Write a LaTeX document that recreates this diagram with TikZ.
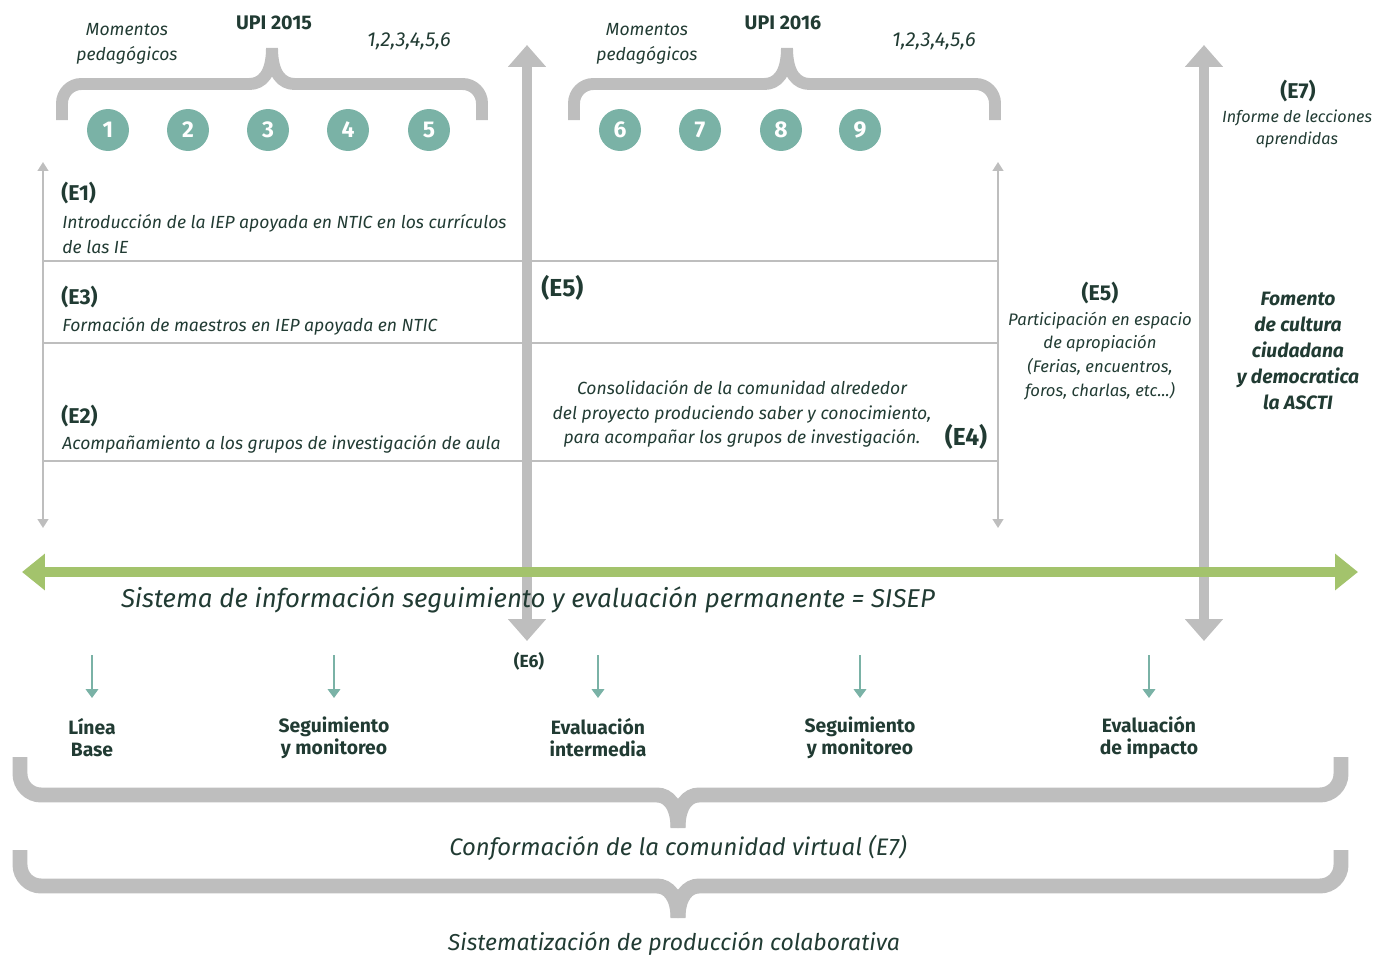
\documentclass[tikz,border=0pt]{standalone}
\usepackage{fontspec}
\setmainfont{Fira Sans}
\usetikzlibrary{arrows.meta}
\definecolor{bargray}{HTML}{BEBEBE}
\definecolor{leafgreen}{HTML}{A3C36C}
\definecolor{dotteal}{HTML}{7AB2A6}
\definecolor{inkgreen}{HTML}{213B33}
\newcommand{\bodyfont}{\fontsize{10}{14}\selectfont}
\newcommand{\tagfont}{\fontsize{12.2}{14}\selectfont}
\begin{document}
\begin{tikzpicture}[x=0.02cm,y=-0.02cm,
  every node/.style={text=inkgreen,inner sep=0pt},
  gbrace/.style={draw=bargray,line width=6.8pt,rounded corners=11pt},
  lowbrace/.style={draw=bargray,line width=8.5pt,rounded corners=12pt},
  bigarrow/.style={draw=bargray,line width=5.7pt,
    {Triangle[length=12.5pt,width=21pt]}-{Triangle[length=12.5pt,width=21pt]}},
  greenarrow/.style={draw=leafgreen,line width=5.7pt,
    {Triangle[length=13pt,width=20pt]}-{Triangle[length=13pt,width=20pt]}},
  thinarrow/.style={draw=bargray,line width=1.1pt,
    {Triangle[length=5pt,width=6pt]}-{Triangle[length=5pt,width=6pt]}},
  tealarrow/.style={draw=dotteal,line width=1.2pt,-{Triangle[length=5pt,width=7pt]}},
  rowline/.style={draw=bargray,line width=1.2pt},
  dot/.style={circle,fill=dotteal,minimum size=0.84cm,text=white,font=\bfseries\fontsize{13}{14}\selectfont},
  note/.style={font=\itshape\bodyfont,align=center},
  tag/.style={font=\bfseries\tagfont},
  bigtag/.style={font=\bfseries\fontsize{14}{16}\selectfont},
  stage/.style={font=\bfseries\fontsize{11}{12.5}\selectfont,align=center}]
  \path[use as bounding box] (0,0) rectangle (1374,957);

  % braces over the pedagogical moments
  \foreach \l/\m/\r in {62/272/482, 574/787/995}{
    \draw[gbrace] (\l,120) -- (\l,84) -- (\m-42,84)
      .. controls (\m-10,84) and (\m,74) .. (\m,48);
    \draw[gbrace] (\r,120) -- (\r,84) -- (\m+42,84)
      .. controls (\m+10,84) and (\m,74) .. (\m,48);
  }
  \node[note] (mom1) at (127,44) {Momentos\\pedagógicos};
  \node[font=\bfseries\fontsize{11.2}{13}\selectfont] (upi1) at (274,23) {UPI 2015};
  \node[note,font=\itshape\fontsize{11.5}{14}\selectfont] (seq1) at (409,41) {1,2,3,4,5,6};
  \node[note] (mom2) at (647,44) {Momentos\\pedagógicos};
  \node[font=\bfseries\fontsize{11.2}{13}\selectfont] (upi2) at (783,23) {UPI 2016};
  \node[note,font=\itshape\fontsize{11.5}{14}\selectfont] (seq2) at (934,41) {1,2,3,4,5,6};
  \foreach \n/\x in {1/108,2/188,3/268,4/348,5/429,6/620,7/700,8/781,9/860}
    \node[dot] (c\n) at (\x,130) {\n};

  % table of strategies
  \coordinate (lt) at (43,162);  \coordinate (lb) at (43,528);
  \coordinate (rt) at (998,162); \coordinate (rb) at (998,528);
  \draw[thinarrow] (lt) -- (lb);
  \draw[thinarrow] (rt) -- (rb);
  \foreach \y in {261,343,461}
    \draw[rowline] (43,\y) -- (998,\y);

  \node[tag,anchor=west] (e1) at (61,193) {(E1)};
  \node[note,align=left,anchor=west] (e1t) at (62,234)
    {Introducción de la IEP apoyada en NTIC en los currículos\\de las IE};
  \node[tag,anchor=west] (e3) at (61,297) {(E3)};
  \node[note,anchor=west] (e3t) at (62,326) {Formación de maestros en IEP apoyada en NTIC};
  \node[tag,anchor=west] (e2) at (61,416) {(E2)};
  \node[note,anchor=west] (e2t) at (62,444) {Acompañamiento a los grupos de investigación de aula};
  \node[bigtag,anchor=west] (e5a) at (541,288) {(E5)};
  \node[note] (e4t) at (742,414) {Consolidación de la comunidad alrededor\\
    del proyecto produciendo saber y conocimiento,\\
    para acompañar los grupos de investigación.};
  \node[bigtag] (e4) at (966,437) {(E4)};

  % right column
  \node[tag] (e5b) at (1100,293) {(E5)};
  \node[note,font=\itshape\fontsize{9.5}{13.6}\selectfont] (e5t) at (1100,356)
    {Participación en espacio\\de apropiación\\(Ferias, encuentros,\\foros, charlas, etc...)};
  \node[tag] (e7) at (1298,91) {(E7)};
  \node[note,font=\itshape\fontsize{9.2}{13}\selectfont] (e7t) at (1297,129) {Informe de lecciones\\aprendidas};
  \node[font=\bfseries\itshape\fontsize{11}{14.7}\selectfont,align=center] (fom) at (1298,351)
    {Fomento\\de cultura\\ciudadana\\y democratica\\la ASCTI};

  % SISEP axis and the two long arrows
  \coordinate (ua) at (527,45);   \coordinate (da) at (527,641);
  \coordinate (ub) at (1204,45);  \coordinate (db) at (1204,641);
  \draw[bigarrow] (ua) -- (da);
  \draw[bigarrow] (ub) -- (db);
  \coordinate (gl) at (22,572);   \coordinate (gr) at (1358,572);
  \draw[greenarrow] (gl) -- (gr);
  \node[font=\itshape\fontsize{14.7}{16}\selectfont] (sisep) at (528,600)
    {Sistema de información seguimiento y evaluación permanente = SISEP};
  \node[font=\bfseries\fontsize{10}{12}\selectfont] (e6) at (529,661) {(E6)};

  % evaluation stages
  \foreach \x/\t/\n in {92/{Línea\\Base}/1, 334/{Seguimiento\\y monitoreo}/2,
      598/{Evaluación\\intermedia}/3, 860/{Seguimiento\\y monitoreo}/4,
      1149/{Evaluación\\de impacto}/5}{
    \coordinate (s\n) at (\x,655);
    \coordinate (t\n) at (\x,698);
    \draw[tealarrow] (s\n) -- (t\n);
    \node[stage] (st\n) at (\x,738) {\t};
  }

  % lower braces
  \foreach \ya/\yb/\yc in {757/795/828, 850/886/918}{
    \draw[lowbrace] (20,\ya) -- (20,\yb) -- (636,\yb)
      .. controls (668,\yb) and (678,\yb+10) .. (678,\yc);
    \draw[lowbrace] (1341,\ya) -- (1341,\yb) -- (720,\yb)
      .. controls (688,\yb) and (678,\yb+10) .. (678,\yc);
  }
  \node[font=\itshape\fontsize{13.6}{16}\selectfont] (conf) at (678,848) {Conformación de la comunidad virtual (E7)};
  \node[font=\itshape\fontsize{13.1}{16}\selectfont] (sist) at (674,944) {Sistematización de producción colaborativa};
\end{tikzpicture}
\end{document}
